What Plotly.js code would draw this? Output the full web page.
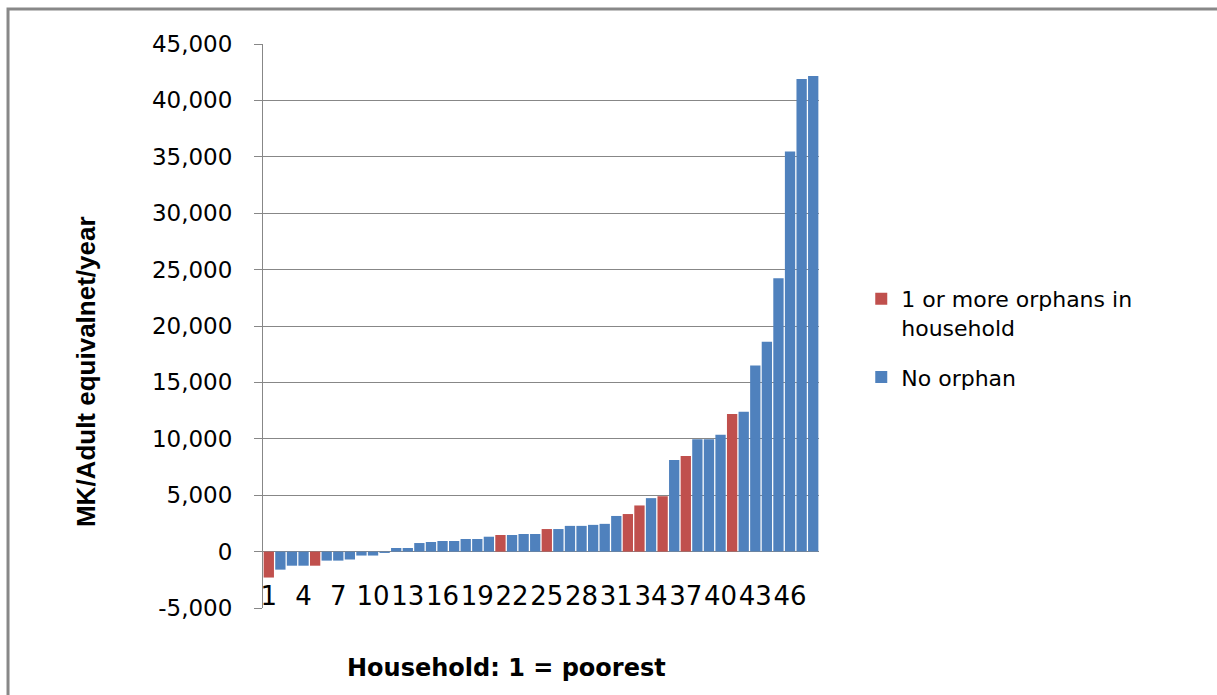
<!DOCTYPE html>
<html>
<head>
<meta charset="utf-8">
<script src="https://cdn.plot.ly/plotly-3.0.1.min.js"></script>
<style>
  html, body { margin: 0; padding: 0; background: #ffffff; }
  #chart { width: 1217px; height: 695px; }
</style>
</head>
<body>
<div id="chart"></div>
<script>
// Households ranked from poorest (1) to richest (48)
var households = [1, 2, 3, 4, 5, 6, 7, 8, 9, 10, 11, 12, 13, 14, 15, 16,
                  17, 18, 19, 20, 21, 22, 23, 24, 25, 26, 27, 28, 29, 30, 31, 32,
                  33, 34, 35, 36, 37, 38, 39, 40, 41, 42, 43, 44, 45, 46, 47, 48];

// MK per adult equivalent per year, households with 1 or more orphans
var orphanValues = [-2300, null, null, null, -1250, null, null, null, null, null, null, null,
                    null, null, null, null, null, null, null, null, 1470, null, null, null,
                    2000, null, null, null, null, null, null, 3330, 4090, null, 4910, null,
                    8480, null, null, null, 12200, null, null, null, null, null, null, null];

// MK per adult equivalent per year, households with no orphan
var noOrphanValues = [null, -1600, -1250, -1250, null, -800, -800, -700, -350, -350, -120, 320,
                      320, 760, 850, 940, 940, 1120, 1120, 1320, null, 1470, 1560, 1560,
                      null, 2000, 2280, 2280, 2370, 2460, 3160, null, null, 4740, null, 8130,
                      null, 9950, 9950, 10350, null, 12400, 16500, 18600, 24230, 35480, 41900, 42170];

var xTickVals = [1, 4, 7, 10, 13, 16, 19, 22, 25, 28, 31, 34, 37, 40, 43, 46];
var xTickText = ['1', '4', '7', '10', '13', '16', '19', '22', '25', '28', '31', '34', '37', '40', '43', '46'];

var yTickVals = [-5000, 0, 5000, 10000, 15000, 20000, 25000, 30000, 35000, 40000, 45000];
var yTickText = ['-5,000', '0', '5,000', '10,000', '15,000', '20,000', '25,000', '30,000', '35,000', '40,000', '45,000'];

var seriesNames = ['1 or more orphans in<br>household', 'No orphan'];
var seriesColors = ['#C0504D', '#4F81BD'];

var xTitle = 'Household: 1 = poorest';
var yTitle = 'MK/Adult equivalnet/year';

var traces = [
  {
    type: 'bar',
    name: seriesNames[0],
    x: households,
    y: orphanValues,
    marker: { color: seriesColors[0], line: { width: 0 } },
    legendgroup: 'orphan',
    hoverinfo: 'x+y'
  },
  {
    type: 'bar',
    name: seriesNames[1],
    x: households,
    y: noOrphanValues,
    marker: { color: seriesColors[1], line: { width: 0 } },
    legendgroup: 'none',
    hoverinfo: 'x+y'
  }
];

var gridColor = '#878787';

var layout = {
  width: 1217,
  height: 695,
  paper_bgcolor: '#ffffff',
  plot_bgcolor: '#ffffff',
  margin: { l: 263, r: 398, t: 44, b: 87, pad: 0 },
  barmode: 'overlay',
  bargap: 0.11,
  showlegend: true,
  legend: {
    x: 1.076, xanchor: 'left',
    y: 0.585, yanchor: 'top',
    traceorder: 'grouped',
    tracegroupgap: 18,
    valign: 'top',
    font: { family: 'DejaVu Sans', size: 22, color: '#000000' },
    bgcolor: 'rgba(0,0,0,0)'
  },
  xaxis: {
    type: 'linear',
    range: [0.5, 48.5],
    tickmode: 'array',
    tickvals: xTickVals,
    ticktext: xTickText,
    tickangle: 0,
    ticks: '',
    showgrid: false,
    zeroline: false,
    showline: false,
    ticklabelstandoff: -30,
    tickfont: { family: 'DejaVu Sans', size: 26, color: '#000000' },
    automargin: false,
    fixedrange: true
  },
  yaxis: {
    range: [-5000, 45000],
    tickmode: 'array',
    tickvals: yTickVals,
    ticktext: yTickText,
    ticks: 'outside',
    ticklen: 8,
    tickcolor: gridColor,
    tickwidth: 1,
    ticklabelstandoff: 17,
    showgrid: true,
    gridcolor: gridColor,
    gridwidth: 1,
    zeroline: true,
    zerolinecolor: gridColor,
    zerolinewidth: 1,
    showline: true,
    linecolor: gridColor,
    linewidth: 1,
    tickfont: { family: 'DejaVu Sans', size: 23, color: '#000000' },
    automargin: false,
    fixedrange: true
  },
  annotations: [
    {
      // horizontal axis title
      text: '<b>' + xTitle + '</b>',
      xref: 'paper', yref: 'paper',
      x: 0.4388, y: -0.1064,
      xanchor: 'center', yanchor: 'middle',
      showarrow: false,
      font: { family: 'DejaVu Sans', size: 24, color: '#000000' }
    },
    {
      // vertical axis title
      text: '<b>' + yTitle + '</b>',
      xref: 'paper', yref: 'paper',
      x: -0.3183, y: 0.4184,
      xanchor: 'center', yanchor: 'middle',
      textangle: -90,
      showarrow: false,
      font: { family: 'Liberation Sans', size: 26, color: '#000000' }
    }
  ],
  shapes: [
    {
      // chart area frame
      type: 'rect',
      xref: 'paper', yref: 'paper',
      x0: -0.4586, x1: 1.75,
      y0: -0.2, y1: 1.0621,
      line: { color: '#888888', width: 3 },
      fillcolor: 'rgba(0,0,0,0)',
      layer: 'below'
    }
  ]
};

Plotly.newPlot('chart', traces, layout, { displayModeBar: false, staticPlot: true });
</script>
</body>
</html>
